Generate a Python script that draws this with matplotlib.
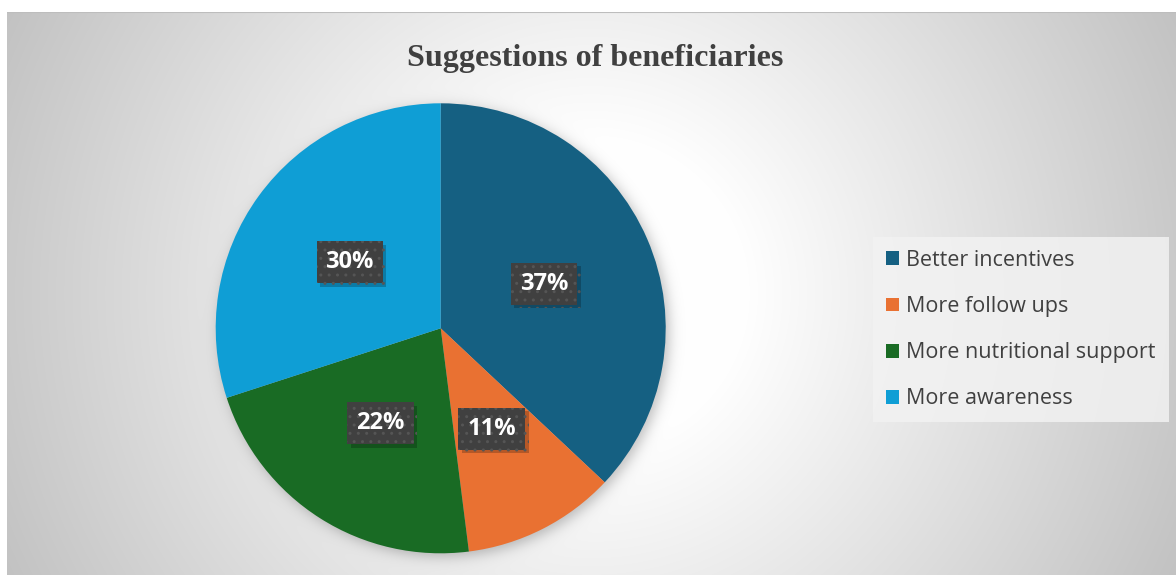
import numpy as np
import matplotlib
matplotlib.use("Agg")
import matplotlib.pyplot as plt
from matplotlib import patheffects

# Survey answers (percent of beneficiaries)
categories = ["Better incentives", "More follow ups", "More nutritional support", "More awareness"]
shares = [37, 11, 22, 30]
colors = ["#156082", "#E97132", "#196B24", "#0F9ED5"]

W, H, DPI = 1176, 575, 100
fig = plt.figure(figsize=(W / DPI, H / DPI), dpi=DPI)
fig.patch.set_facecolor("white")

# chart area sits inside a thin white margin (left and top)
left_px, top_px = 7, 12
bw, bh = W - left_px, H - top_px
ax_bg = fig.add_axes([left_px / W, 0, bw / W, bh / H])
ax_bg.set_axis_off()

# radial white-to-grey fill from the middle of the chart area, plus a soft shadow under the pie
yy, xx = np.mgrid[0:bh, 0:bw].astype(float)
xx += left_px
yy += top_px
d = np.sqrt((xx - 591) ** 2 + (yy - 293) ** 2)
shade = 255 - 0.122 * np.clip(d - 150, 0, None)
shade = np.clip(shade, 190, 255)

pie_cx, pie_cy, pie_r = 440.7, 328.3, 225
rr = np.sqrt((xx - pie_cx - 3) ** 2 + (yy - pie_cy - 3) ** 2)
shadow = 0.25 * 0.5 * (1 - np.tanh((rr - pie_r) / 8))
shade = shade * (1 - shadow)
img = np.dstack([shade] * 3) / 255.0
ax_bg.imshow(img, extent=[0, 1, 0, 1], aspect="auto", interpolation="bilinear")
ax_bg.set_xlim(0, 1)
ax_bg.set_ylim(0, 1)
ax_bg.axhline(1, color="#bdbdbd", linewidth=1.5)

fig.text(595 / W, 1 - 66 / H, "Suggestions of beneficiaries", ha="center", va="baseline",
         fontsize=23, fontweight="bold", family="Liberation Serif", color="#404040")

# pie
ax = fig.add_axes([(pie_cx - pie_r) / W, (H - pie_cy - pie_r) / H, 2 * pie_r / W, 2 * pie_r / H])
wedges, texts, autotexts = ax.pie(
    shares, colors=colors, startangle=90, counterclock=False,
    autopct="%1.0f%%", pctdistance=0.5, radius=1,
    wedgeprops=dict(linewidth=0),
    textprops=dict(color="white", fontsize=17, fontweight="bold", family="Open Sans"),
)
ax.set_xlim(-1, 1)
ax.set_ylim(-1, 1)
ax.set_aspect("equal")

for t in autotexts:
    t.set_bbox(dict(boxstyle="square,pad=0.38", facecolor="#404040", edgecolor="#555555",
                    linewidth=0, hatch=".."))
    t.get_bbox_patch().set_path_effects([
        patheffects.withSimplePatchShadow(offset=(2.5, -2.5), shadow_rgbFace="black", alpha=0.22),
        patheffects.Normal(),
    ])

leg = fig.legend(
    wedges, categories, loc="upper left",
    bbox_to_anchor=(873 / W, 1 - 237 / H),
    frameon=True, fancybox=False, handlelength=0.6, handleheight=0.6,
    handletextpad=0.35, labelspacing=1.17, borderpad=0.6, borderaxespad=0,
    prop=dict(family="Open Sans", size=15.5),
)
leg.get_frame().set_facecolor("#f2f2f2")
leg.get_frame().set_alpha(0.85)
leg.get_frame().set_linewidth(0)
for txt in leg.get_texts():
    txt.set_color("#404040")

fig.savefig("out.png", dpi=DPI)
